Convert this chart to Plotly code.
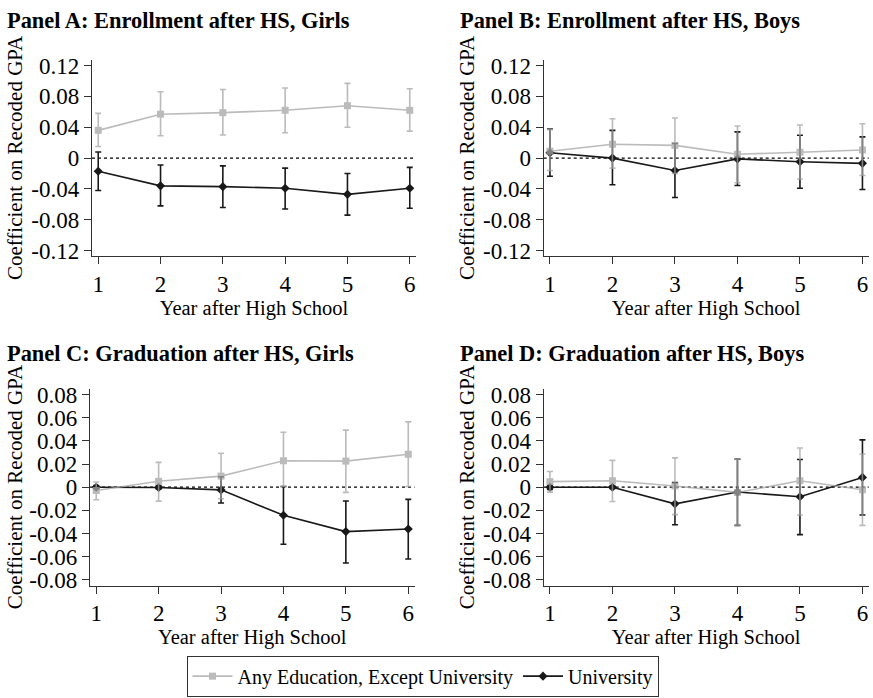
import plotly.graph_objects as go

# ---------------- data ----------------
years = [1, 2, 3, 4, 5, 6]
x_ticks = [1, 2, 3, 4, 5, 6]
y_ticks_enr = [-0.12, -0.08, -0.04, 0, 0.04, 0.08, 0.12]
y_labels_enr = ["-0.12", "-0.08", "-0.04", "0", "0.04", "0.08", "0.12"]
y_ticks_grad = [-0.08, -0.06, -0.04, -0.02, 0, 0.02, 0.04, 0.06, 0.08]
y_labels_grad = ["-0.08", "-0.06", "-0.04", "-0.02", "0", "0.02", "0.04", "0.06", "0.08"]

series_names = ["Any Education, Except University", "University"]
panel_titles = ["Panel A: Enrollment after HS, Girls", "Panel B: Enrollment after HS, Boys",
                "Panel C: Graduation after HS, Girls", "Panel D: Graduation after HS, Boys"]
x_title = "Year after High School"
y_title = "Coefficient on Recoded GPA"

# Panel A
A_any = [0.036, 0.057, 0.059, 0.062, 0.068, 0.062]
A_any_lo = [0.015, 0.029, 0.030, 0.033, 0.040, 0.035]
A_any_hi = [0.058, 0.086, 0.089, 0.091, 0.097, 0.090]
A_uni = [-0.017, -0.036, -0.037, -0.039, -0.047, -0.039]
A_uni_lo = [-0.042, -0.062, -0.064, -0.066, -0.074, -0.065]
A_uni_hi = [0.008, -0.009, -0.010, -0.013, -0.020, -0.012]
# Panel B
B_any = [0.009, 0.018, 0.0165, 0.005, 0.0076, 0.0106]
B_any_lo = [-0.016, -0.013, -0.020, -0.032, -0.027, -0.0225]
B_any_hi = [0.037, 0.051, 0.052, 0.0416, 0.043, 0.0445]
B_uni = [0.007, 0.0, -0.016, -0.001, -0.0047, -0.0068]
B_uni_lo = [-0.0235, -0.0345, -0.051, -0.0356, -0.039, -0.0407]
B_uni_hi = [0.0378, 0.036, 0.019, 0.034, 0.0297, 0.0276]
# Panel C
C_any = [-0.0028, 0.0051, 0.0096, 0.0229, 0.0226, 0.0285]
C_any_lo = [-0.0108, -0.012, -0.010, 0.0006, -0.0045, 0.0006]
C_any_hi = [0.0045, 0.0215, 0.0294, 0.0475, 0.0494, 0.0565]
C_uni = [0.0, -0.0003, -0.0023, -0.0243, -0.0384, -0.0362]
C_uni_lo = [-0.0015, -0.0015, -0.0136, -0.0494, -0.0655, -0.0621]
C_uni_hi = [0.0015, 0.0012, 0.009, 0.0006, -0.0119, -0.0105]
# Panel D
D_any = [0.0048, 0.0056, 0.0011, -0.0045, 0.0056, -0.0022]
D_any_lo = [-0.0042, -0.0124, -0.0237, -0.033, -0.024, -0.033]
D_any_hi = [0.0136, 0.0232, 0.0254, 0.0243, 0.0339, 0.0288]
D_uni = [0.0, 0.0, -0.0144, -0.0042, -0.0082, 0.0085]
D_uni_lo = [-0.002, -0.001, -0.0325, -0.033, -0.041, -0.024]
D_uni_hi = [0.0015, 0.001, 0.004, 0.0243, 0.024, 0.041]

panels = [
    (A_any, A_any_lo, A_any_hi, A_uni, A_uni_lo, A_uni_hi),
    (B_any, B_any_lo, B_any_hi, B_uni, B_uni_lo, B_uni_hi),
    (C_any, C_any_lo, C_any_hi, C_uni, C_uni_lo, C_uni_hi),
    (D_any, D_any_lo, D_any_hi, D_uni, D_uni_lo, D_uni_hi),
]

# ---------------- layout geometry ----------------
W, H = 873, 698
FONT = "Liberation Serif"
GRAY = "rgb(165,165,165)"
BLACK = "rgb(25,25,25)"
AXC = "rgb(50,50,50)"
TICK_FS = 23
TITLE_FS = 20.5

def px_x(a, b):
    return [a / W, b / W]

def px_y(top, bottom):
    return [1 - bottom / H, 1 - top / H]

geo = [
    dict(x=px_x(92, 416), y=px_y(55, 255), yr=[-0.1273, 0.1273], tv=y_ticks_enr, tt=y_labels_enr),
    dict(x=px_x(543.7, 868.7), y=px_y(55, 255), yr=[-0.1273, 0.1273], tv=y_ticks_enr, tt=y_labels_enr),
    dict(x=px_x(90, 414.5), y=px_y(390, 590.7), yr=[-0.0852, 0.0852], tv=y_ticks_grad, tt=y_labels_grad),
    dict(x=px_x(543.7, 868.7), y=px_y(390, 590.7), yr=[-0.0852, 0.0852], tv=y_ticks_grad, tt=y_labels_grad),
]

fig = go.Figure()
layout = dict(
    width=W, height=H,
    margin=dict(l=0, r=0, t=0, b=0),
    paper_bgcolor="white", plot_bgcolor="white",
    font=dict(family=FONT, size=20, color="black"),
    showlegend=True,
    legend=dict(orientation="h", x=422.5 / W, xanchor="center", y=1 - 662 / H, yanchor="top",
                bordercolor=AXC, borderwidth=1, font=dict(size=20, family=FONT),
                traceorder="reversed", bgcolor="white", itemwidth=40),
    annotations=[], shapes=[],
)

for i, (g, p) in enumerate(zip(geo, panels)):
    n = "" if i == 0 else str(i + 1)
    xa, ya = "x" + n, "y" + n
    any_v, any_lo, any_hi, uni_v, uni_lo, uni_hi = p
    # university (black) first so gray sits on top
    fig.add_trace(go.Scatter(
        x=years, y=uni_v, mode="lines+markers", name=series_names[1],
        xaxis=xa, yaxis=ya, showlegend=(i == 0), legendgroup="uni",
        line=dict(color=BLACK, width=1.6),
        marker=dict(symbol="diamond", size=7, color=BLACK),
        error_y=dict(type="data", symmetric=False,
                     array=[h - v for h, v in zip(uni_hi, uni_v)],
                     arrayminus=[v - l for v, l in zip(uni_v, uni_lo)],
                     color=BLACK, thickness=1.6, width=3),
    ))
    fig.add_trace(go.Scatter(
        x=years, y=any_v, mode="lines+markers", name=series_names[0],
        xaxis=xa, yaxis=ya, showlegend=(i == 0), legendgroup="any",
        opacity=0.75,
        line=dict(color=GRAY, width=1.6),
        marker=dict(symbol="square", size=7, color=GRAY),
        error_y=dict(type="data", symmetric=False,
                     array=[h - v for h, v in zip(any_hi, any_v)],
                     arrayminus=[v - l for v, l in zip(any_v, any_lo)],
                     color=GRAY, thickness=1.6, width=3),
    ))
    layout["xaxis" + n] = dict(
        domain=g["x"], anchor=ya, range=[0.9, 6.1], tickvals=x_ticks,
        ticktext=[str(t) for t in x_ticks], ticklabeloverflow="allow",
        showline=True, linecolor=AXC, linewidth=1.3, ticks="outside", ticklen=7,
        tickwidth=1.3, tickcolor=AXC, showgrid=False, zeroline=False,
        tickfont=dict(size=TICK_FS, family=FONT),
        title=dict(text=x_title, font=dict(size=TITLE_FS, family=FONT), standoff=2),
    )
    layout["yaxis" + n] = dict(
        domain=g["y"], anchor=xa, range=g["yr"], tickvals=g["tv"], ticktext=g["tt"],
        showline=True, linecolor=AXC, linewidth=1.3, ticks="outside", ticklen=7,
        tickwidth=1.3, tickcolor=AXC, showgrid=False, zeroline=False,
        tickfont=dict(size=TICK_FS, family=FONT), ticklabeloverflow="allow",
    )
    layout["shapes"].append(dict(
        type="line", xref=xa + " domain", x0=0, x1=1, yref=ya, y0=0, y1=0,
        line=dict(color="black", width=1.2, dash="3px,3px"), layer="below"))
    # panel title
    tx = 5 / W if i % 2 == 0 else 458 / W
    ty = 1 - (15 / H) if i < 2 else 1 - (354 / H)
    layout["annotations"].append(dict(
        text="<b>" + panel_titles[i] + "</b>", xref="paper", yref="paper",
        x=tx, y=ty, xanchor="left", yanchor="middle", showarrow=False,
        font=dict(size=22.4, family=FONT, color="black")))
    # y-axis title
    yx = 15 / W if i % 2 == 0 else 467 / W
    yc = (g["y"][0] + g["y"][1]) / 2
    layout["annotations"].append(dict(
        text=y_title, xref="paper", yref="paper", x=yx, y=yc,
        xanchor="center", yanchor="middle", textangle=-90, showarrow=False,
        font=dict(size=21, family=FONT, color="black")))

fig.update_layout(**layout)
fig.write_html("out.html", config={"displayModeBar": False},
               post_script="document.body.style.margin='0';document.body.style.overflow='hidden';")
